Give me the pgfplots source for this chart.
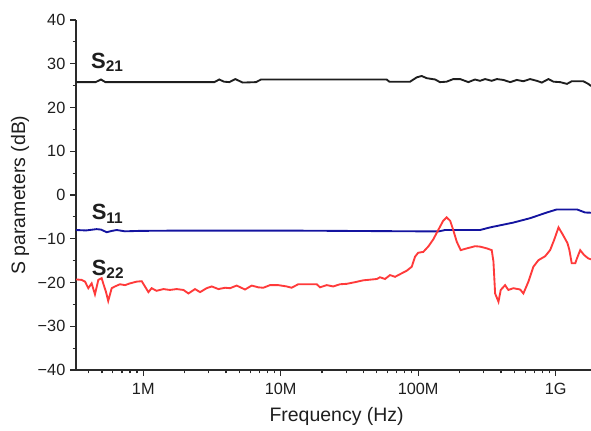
\documentclass[border=0pt]{standalone}
\usepackage{pgfplots}
\pgfplotsset{compat=1.18}
\usepackage{fontspec}
\setmainfont{Liberation Sans}
\definecolor{cblack}{HTML}{1E1E1E}
\definecolor{cblue}{HTML}{1414A0}
\definecolor{cred}{HTML}{FF3A3A}
\definecolor{caxis}{HTML}{2A2A2A}
\begin{document}
\begin{tikzpicture}
\useasboundingbox (-57pt,-45pt) rectangle (386.25pt,277.5pt);
\begin{axis}[
  at={(0,0)}, anchor=south west,
  scale only axis, width=386.25pt, height=262.5pt,
  xmode=log, log basis x=10,
  xmin=3.24e5, xmax=1.81e9,
  ymin=-40, ymax=40,
  axis x line=bottom, axis y line=left,
  axis line style={-, caxis, line width=0.9pt},
  tick align=outside,
  major tick length=4.5pt, minor tick length=2.6pt,
  tick style={caxis, line width=0.9pt},
  xtick={1e6,1e7,1e8,1e9},
  xticklabels={1M,10M,100M,1G},
  minor xtick={4e5,5e5,6e5,7e5,8e5,9e5,2e6,3e6,4e6,5e6,6e6,7e6,8e6,9e6,2e7,3e7,4e7,5e7,6e7,7e7,8e7,9e7,2e8,3e8,4e8,5e8,6e8,7e8,8e8,9e8},
  ytick={-40,-30,-20,-10,0,10,20,30,40},
  yticklabels={−40,−30,−20,−10,0,10,20,30,40},
  minor ytick={-35,-25,-15,-5,5,15,25,35},
  ticklabel style={font=\fontsize{12.2}{14}\selectfont, text=cblack},
  xticklabel style={yshift=-2pt},
  yticklabel style={xshift=0pt},
  /pgf/number format/assume math mode=true,
  xlabel={Frequency (Hz)},
  ylabel={S parameters (dB)},
  label style={font=\fontsize{14.6}{17}\selectfont, text=cblack},
  xlabel style={at={(axis description cs:0.506,-0.1333)}, anchor=center},
  ylabel style={at={(axis description cs:-0.1087,0.5)}, anchor=center},
  clip=false,
]
\addplot[cblack, line width=1.4pt] coordinates {
(3.24e5,25.8) (4.5e5,25.8) (4.92e5,26.4) (5.3e5,25.8) (3.29e6,25.8) (3.57e6,26.4)
(3.87e6,25.9) (4.23e6,25.8) (4.67e6,26.5) (5.29e6,25.7) (6.61e6,25.8) (7.19e6,26.4)
(5.9e7,26.4) (6.17e7,25.9) (8.73e7,25.9) (9.77e7,26.9) (1.06e8,27.2) (1.156e8,26.7)
(1.33e8,26.4) (1.44e8,25.8) (1.61e8,25.9) (1.80e8,26.5) (2.02e8,26.5) (2.32e8,25.8)
(2.59e8,26.4) (2.82e8,26.1) (3.07e8,26.5) (3.43e8,26.1) (3.74e8,26.5) (4.17e8,26.3)
(4.67e8,25.8) (5.22e8,26.3) (5.83e8,26.0) (6.52e8,26.5) (7.3e8,26.1) (7.94e8,25.7)
(8.87e8,26.5) (9.65e8,25.9) (1.08e9,25.8) (1.21e9,25.4) (1.31e9,26.0) (1.59e9,26.0)
(1.73e9,25.4) (1.81e9,24.9)
};
\addplot[cblue, line width=1.4pt] coordinates {
(3.24e5,-8.0) (3.83e5,-8.1) (4.58e5,-7.8) (4.92e5,-7.9) (5.42e5,-8.5) (5.92e5,-8.2)
(6.4e5,-8.0) (7.36e5,-8.3) (9.46e5,-8.2) (1.54e6,-8.15) (1.38e7,-8.15) (9.66e7,-8.3)
(1.42e8,-8.3) (1.57e8,-8.0) (2.82e8,-8.0) (3.34e8,-7.4) (4.93e8,-6.3) (6.52e8,-5.3)
(8.63e8,-4.0) (1.02e9,-3.3) (1.43e9,-3.3) (1.64e9,-4.0) (1.81e9,-4.05)
};
\addplot[cred, line width=1.4pt] coordinates {
(3.24e5,-19.3) (3.56e5,-19.4) (3.77e5,-19.8) (3.98e5,-21.3) (4.21e5,-20.2) (4.45e5,-22.7)
(4.71e5,-19.4) (4.98e5,-19.0) (5.11e5,-20.2) (5.35e5,-22.1) (5.56e5,-24.2) (5.89e5,-21.3)
(6.22e5,-20.9) (6.77e5,-20.4) (7.36e5,-20.6) (8.0e5,-20.2) (8.95e5,-19.8) (9.74e5,-19.7)
(1.09e6,-22.2) (1.15e6,-21.3) (1.25e6,-21.9) (1.40e6,-21.5) (1.56e6,-21.7) (1.75e6,-21.5)
(1.96e6,-21.7) (2.13e6,-22.5) (2.38e6,-21.5) (2.59e6,-22.2) (2.89e6,-21.3) (3.15e6,-20.9)
(3.52e6,-21.5) (3.93e6,-21.2) (4.28e6,-21.3) (4.78e6,-20.7) (5.50e6,-21.6) (6.15e6,-20.7)
(6.87e6,-21.1) (7.47e6,-21.2) (8.36e6,-20.6) (9.6e6,-20.6) (1.106e7,-20.9) (1.20e7,-21.2)
(1.34e7,-20.4) (1.83e7,-20.4) (1.93e7,-21.1) (2.16e7,-20.6) (2.41e7,-20.9) (2.70e7,-20.4)
(3.02e7,-20.3) (3.38e7,-20.0) (3.99e7,-19.5) (5.0e7,-19.2) (5.28e7,-18.8) (5.74e7,-19.2)
(6.24e7,-18.3) (6.79e7,-18.7) (7.38e7,-18.1) (8.26e7,-17.3) (8.98e7,-16.4) (9.49e7,-14.1)
(1.00e8,-13.2) (1.09e8,-13.0) (1.19e8,-11.7) (1.29e8,-10.1) (1.40e8,-8.0) (1.52e8,-5.9)
(1.61e8,-5.1) (1.71e8,-5.9) (1.80e8,-8.0) (1.91e8,-10.7) (2.04e8,-12.6) (2.26e8,-12.2)
(2.60e8,-11.7) (2.82e8,-11.8) (3.16e8,-12.2) (3.43e8,-12.6) (3.53e8,-15.2) (3.63e8,-22.5)
(3.84e8,-24.4) (3.99e8,-21.7) (4.29e8,-20.6) (4.53e8,-21.7) (4.93e8,-21.3) (5.52e8,-21.6)
(5.83e8,-22.5) (6.34e8,-19.8) (6.89e8,-16.4) (7.50e8,-14.9) (8.39e8,-14.0) (9.12e8,-12.6)
(9.75e8,-10.3) (1.05e9,-7.4) (1.13e9,-9.1) (1.22e9,-11.0) (1.26e9,-12.6) (1.31e9,-15.6)
(1.39e9,-15.6) (1.43e9,-14.5) (1.51e9,-12.6) (1.61e9,-13.7) (1.73e9,-14.5) (1.81e9,-14.7)
};
\node[anchor=base west, inner sep=0pt, text=cblack, font=\fontsize{16.5}{19}\selectfont\bfseries] at (axis cs:4.16e5,29.0) {S\textsubscript{21}};
\node[anchor=base west, inner sep=0pt, text=cblack, font=\fontsize{16.5}{19}\selectfont\bfseries] at (axis cs:4.2e5,-5.7) {S\textsubscript{11}};
\node[anchor=base west, inner sep=0pt, text=cblack, font=\fontsize{16.5}{19}\selectfont\bfseries] at (axis cs:4.2e5,-18.3) {S\textsubscript{22}};
\end{axis}
\end{tikzpicture}
\end{document}
